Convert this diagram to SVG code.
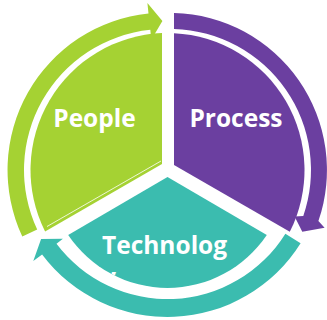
<svg xmlns="http://www.w3.org/2000/svg" width="327" height="320" viewBox="0 0 327 320">
<style>
.g{fill:#A5D233}
.p{fill:#6B3FA0}
.t{fill:#3BBCAF}
.lbl{font-family:"Open Sans","Noto Sans","Liberation Sans",sans-serif;font-weight:bold;font-size:24.5px;fill:#FFFFFF}
</style>
<defs>
<clipPath id="tclip">
<path d="M 167.5 177 L 266.8 234.9 A 119.5 119.5 0 0 1 68.2 234.9 Z"/>
</clipPath>
</defs>
<rect width="327" height="320" fill="#FFFFFF"/>
<g id="connectors">
<path class="g" d="M 22.3 236.6 A 157.5 157.5 0 0 1 148.5 13.4 L 147.4 2.9 L 162.4 21 L 151.3 39.7 L 150.3 29.8 A 141 141 0 0 0 37.2 229.6 Z"/>
<path class="p" d="M 174 13.05 A 157 157 0 0 1 318.4 221.1 L 324.6 227.8 L 302.3 231.7 L 294.6 216.6 L 303.3 215.9 A 141 141 0 0 0 174 29.06 Z"/>
<path class="t" d="M 300.6 243.2 A 157 157 0 0 1 42.1 254.5 L 33.3 261.1 L 41.1 239 L 62.9 238.8 L 56.5 243.7 A 139 139 0 0 0 285.4 233.7 Z"/>
</g>
<g id="people">
<path class="g" d="M 162 164 L 162 33.1 A 137 137 0 0 0 45.1 231.5 Z"/>
<line x1="47" y1="226.5" x2="161" y2="161" stroke="#FFFFFF" stroke-width="0.8"/>
<text class="lbl" x="94.5" y="127" text-anchor="middle">People</text>
</g>
<g id="process">
<path class="p" d="M 174 165 L 174 33.2 A 137 137 0 0 1 289.8 231.8 Z"/>
<text class="lbl" x="236" y="127" text-anchor="middle">Process</text>
</g>
<g id="technology">
<path class="t" d="M 167.5 177 L 266.8 234.9 A 119.5 119.5 0 0 1 68.2 234.9 Z"/>
<text class="lbl" x="102" y="254">Technolog</text>
<text class="lbl" x="102" y="286" clip-path="url(#tclip)">y</text>
</g>
</svg>
